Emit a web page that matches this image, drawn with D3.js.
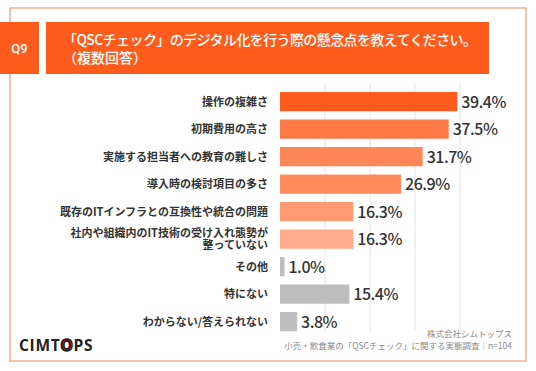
<!DOCTYPE html>
<html><head><meta charset="utf-8">
<script src="https://cdn.jsdelivr.net/npm/d3@7"></script>
<style>
html,body{margin:0;padding:0;background:#fff;}
svg{display:block;font-family:"Noto Sans CJK JP","Noto Sans",sans-serif;}
</style></head>
<body><svg id="c" width="536" height="371"></svg>
<script>
const categories = [
  ["操作の複雑さ"],
  ["初期費用の高さ"],
  ["実施する担当者への教育の難しさ"],
  ["導入時の検討項目の多さ"],
  ["既存のITインフラとの互換性や統合の問題"],
  ["社内や組織内のIT技術の受け入れ態勢が","整っていない"],
  ["その他"],
  ["特にない"],
  ["わからない/答えられない"]
];
const values = [39.4, 37.5, 31.7, 26.9, 16.3, 16.3, 1.0, 15.4, 3.8];
const barColors = ["#ff5a1e","#ff7a47","#ff8757","#ff8a5c","#ff9b72","#ffab8b","#bdbdbd","#bdbdbd","#bdbdbd"];
const gridTicks = [10, 20, 30, 40];
const titleLines = ["「QSCチェック」のデジタル化を行う際の懸念点を教えてください。","（複数回答）"];
const qLabel = "Q9";
const footerLines = ["株式会社シムトップス","小売・飲食業の「QSCチェック」に関する実態調査｜n=104"];

const svg = d3.select("#c");
const orange = "#fe5b1c";

// frame
svg.append("rect").attr("x",10).attr("y",8).attr("width",516).attr("height",353)
  .attr("fill","none").attr("stroke","#f6ad92").attr("stroke-width",1.5);

// header boxes
svg.append("rect").attr("x",0).attr("y",22).attr("width",39).attr("height",52).attr("fill",orange);
svg.append("text").attr("x",19.5).attr("y",52.5).attr("text-anchor","middle")
  .attr("fill","#fff").attr("font-size",13).attr("font-weight",500)
  .attr("font-family","Roboto,'Noto Sans',sans-serif").text(qLabel);
svg.append("rect").attr("x",46).attr("y",22).attr("width",443).attr("height",52).attr("fill",orange);
svg.append("text").attr("fill","#fff").attr("font-size",14).attr("font-weight",500)
  .attr("x",63).attr("y",44.5).attr("textLength",414).attr("lengthAdjust","spacing").text(titleLines[0]);
svg.append("text").attr("fill","#fff").attr("font-size",14).attr("font-weight",500)
  .attr("x",63).attr("y",62.5).text(titleLines[1]);

// scales
const x = d3.scaleLinear().domain([0,10]).range([280,325]);
const y = d3.scaleBand().domain(d3.range(values.length)).range([87.9,335.4]).paddingInner(0.3).paddingOuter(0.15);

// grid
svg.append("g").selectAll("line").data(gridTicks).join("line")
  .attr("x1",d=>x(d)).attr("x2",d=>x(d)).attr("y1",84).attr("y2",331)
  .attr("stroke","#e3e3e3").attr("stroke-width",1);

// bars
svg.append("g").selectAll("rect").data(values).join("rect")
  .attr("x",x(0)).attr("y",(d,i)=>y(i)).attr("width",d=>x(d)-x(0)).attr("height",y.bandwidth())
  .attr("fill",(d,i)=>barColors[i]);

// value labels
svg.append("g").selectAll("text").data(values).join("text")
  .attr("x",d=>x(d)+4).attr("y",(d,i)=>y(i)+y.bandwidth()/2+6)
  .attr("fill","#333").attr("font-size",16).attr("font-weight",500)
  .attr("font-family","'Noto Sans CJK JP',sans-serif").attr("letter-spacing",-0.5)
  .text(d=>d.toFixed(1)+"%");

// category labels
svg.append("g").selectAll("g").data(categories).join("g").each(function(lines,i){
  const g = d3.select(this);
  const cy = y(i)+y.bandwidth()/2;
  const lh = 12.5;
  lines.forEach((s,k)=>{
    g.append("text").attr("text-anchor","end").attr("fill","#333").attr("font-size",11).attr("font-weight",700)
      .attr("x",268).attr("y",cy + 4 + (k-(lines.length-1)/2)*lh).text(s);
  });
});

// footer
svg.append("text").attr("text-anchor","end").attr("fill","#8a8a8a").attr("font-size",8.5)
  .attr("x",512).attr("y",337).text(footerLines[0]);
svg.append("text").attr("text-anchor","end").attr("fill","#8a8a8a").attr("font-size",8.5)
  .attr("x",512).attr("y",349).text(footerLines[1]);

// logo
const lg = svg.append("text").attr("x",19).attr("y",351).attr("font-size",15.5).attr("font-weight",700)
  .attr("fill","#222").attr("font-family","'Open Sans','Noto Sans',sans-serif").attr("letter-spacing",0.7);
lg.append("tspan").text("CIMT");
lg.append("tspan").attr("fill","#e60012").attr("stroke","#222").attr("stroke-width",1.6).text("O");
lg.append("tspan").text("PS");
</script></body></html>
